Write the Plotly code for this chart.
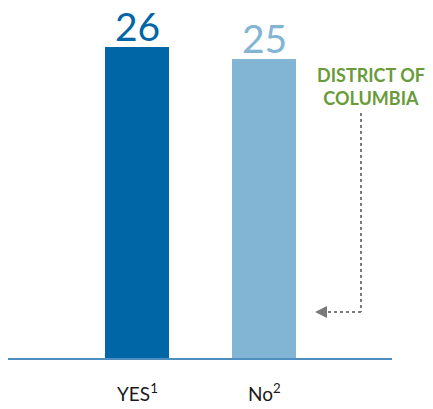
import plotly.graph_objects as go

categories = ["YES", "No"]
footnotes = ["1", "2"]
values = [26, 25]
bar_colors = ["#0066a6", "#82b4d4"]

# page body has an 8px margin; figure is sized to fit the 433x409 window
OFF = 8
W, H = 433 - OFF, 409 - OFF
BASE = 358          # baseline y in window pixels
LEFT, RIGHT = 8, 392
L, R, T = LEFT - OFF, W - (RIGHT - OFF), 0
B = H - (BASE - OFF)
pw, ph = W - L - R, H - T - B
unit = 11.96        # pixels per value unit

def px(x):
    return (x - OFF - L) / pw

def py(y):
    return (BASE - y) / ph

fig = go.Figure()
fig.add_trace(go.Bar(
    x=categories, y=values, marker=dict(color=bar_colors, line=dict(width=0)),
    width=0.504, hoverinfo="skip",
))

for c, v, col, fn in zip(categories, values, bar_colors, footnotes):
    fig.add_annotation(x=c, y=v, text=str(v), showarrow=False, yanchor="bottom",
                       yshift=-3, borderpad=0, font=dict(family="Lato", size=39, color=col))
    fig.add_annotation(x=c, y=0, text=f"{c}<sup>{fn}</sup>", showarrow=False,
                       yanchor="middle", yshift=-34,
                       font=dict(family="Lato", size=19, color="#1a1a1a"))

fig.add_annotation(xref="paper", yref="paper", x=px(371), y=py(86),
                   text="<b>DISTRICT OF<br>COLUMBIA</b>", showarrow=False,
                   xanchor="center", yanchor="middle", align="center",
                   font=dict(family="Lato", size=18, color="#6a9b3a"))

gray = "#7a7a7a"
fig.add_shape(type="line", xref="paper", yref="paper", x0=px(361), x1=px(361),
              y0=py(113), y1=py(312), line=dict(color=gray, width=2, dash="dot"))
fig.add_shape(type="line", xref="paper", yref="paper", x0=px(361), x1=px(327),
              y0=py(312), y1=py(312), line=dict(color=gray, width=2, dash="dot"))
fig.add_shape(type="path", xref="paper", yref="paper",
              path=f"M {px(315)} {py(312)} L {px(327)} {py(306)} L {px(327)} {py(318)} Z",
              fillcolor=gray, line=dict(width=0))

fig.update_layout(
    width=W, height=H, margin=dict(l=L, r=R, t=T, b=B, autoexpand=False),
    paper_bgcolor="white", plot_bgcolor="white", showlegend=False,
    xaxis=dict(range=[-1.016, 2.008], showticklabels=False, ticks="",
               showline=True, linecolor="#4f8fbf", linewidth=2, showgrid=False,
               zeroline=False, fixedrange=True),
    yaxis=dict(range=[0, ph / unit], visible=False, showgrid=False,
               zeroline=False, fixedrange=True),
)

fig.write_html("out.html")
